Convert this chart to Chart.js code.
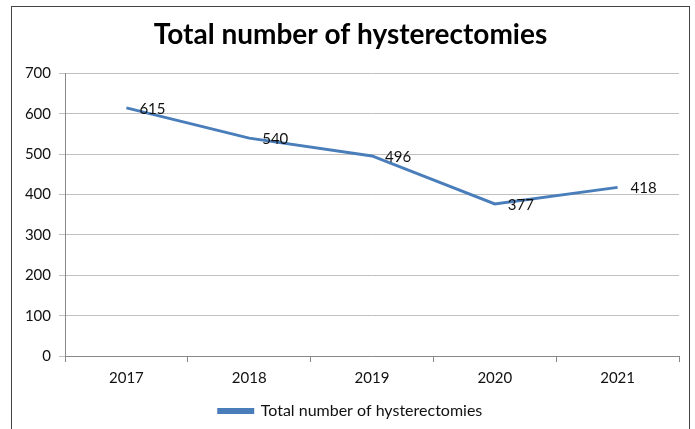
<!DOCTYPE html>
<html>
<head>
<meta charset="utf-8">
<script src="https://cdn.jsdelivr.net/npm/chart.js@4"></script>
<style>
  html, body { margin: 0; padding: 0; background: #fff; }
  #wrap { position: relative; width: 695px; height: 429px; }
  #frame {
    position: absolute; left: 11px; top: 6px; width: 679px; height: 440px;
    border: 1px solid #444; box-sizing: border-box; pointer-events: none;
  }
</style>
</head>
<body>
<div id="wrap">
  <canvas id="chart" width="695" height="429"></canvas>
  <div id="frame"></div>
</div>
<script>
// Data
const years = ['2017', '2018', '2019', '2020', '2021'];
const totals = [615, 540, 496, 377, 418];
const seriesName = 'Total number of hysterectomies';
const yTicks = [0, 100, 200, 300, 400, 500, 600, 700];

const lineBlue = '#4a7ebb';
const gridGrey = '#c0c0c0';
const fontFamily = 'Lato, Calibri, "Noto Sans", sans-serif';

// value labels to the right of each point
const valueLabels = {
  id: 'valueLabels',
  afterDatasetsDraw(chart) {
    const ctx = chart.ctx;
    const meta = chart.getDatasetMeta(0);
    ctx.save();
    ctx.font = '15px ' + fontFamily;
    ctx.fillStyle = '#111';
    ctx.textBaseline = 'middle';
    ctx.textAlign = 'left';
    meta.data.forEach((pt, i) => {
      ctx.fillText(String(totals[i]), pt.x + 13, pt.y + 1);
    });
    ctx.restore();
  }
};

const ctx = document.getElementById('chart').getContext('2d');
const chart = new Chart(ctx, {
  type: 'line',
  data: {
    labels: years,
    datasets: [{
      label: seriesName,
      data: totals,
      borderColor: lineBlue,
      backgroundColor: lineBlue,
      borderWidth: 3,
      pointRadius: 0,
      tension: 0
    }]
  },
  options: {
    responsive: false,
    animation: false,
    // some left padding pushes the title towards the centre of the original
    layout: { padding: { left: 22, right: 16, top: 0, bottom: 0 } },
    plugins: {
      title: {
        display: true,
        text: seriesName,
        color: '#000',
        font: { family: fontFamily, size: 28, weight: 'bold' },
        padding: { top: 18, bottom: 22 }
      },
      legend: {
        display: true,
        position: 'bottom',
        labels: {
          color: '#111',
          font: { family: fontFamily, size: 16 },
          boxWidth: 34,
          boxHeight: 3,
          padding: 9
        }
      },
      tooltip: { enabled: false }
    },
    scales: {
      x: {
        offset: true,
        grid: {
          offset: true,
          drawOnChartArea: false,
          color: '#888',
          tickLength: 6
        },
        border: { color: '#888' },
        ticks: {
          color: '#111',
          font: { family: fontFamily, size: 15 },
          padding: 7,
          maxRotation: 0
        }
      },
      y: {
        min: 0,
        max: 700,
        afterBuildTicks: (scale) => { scale.ticks = yTicks.map(v => ({ value: v })); },
        afterFit: (scale) => { scale.width = 43; },
        grid: {
          color: gridGrey,
          tickLength: 6
        },
        border: { color: '#888' },
        ticks: {
          color: '#111',
          font: { family: fontFamily, size: 15 },
          padding: 8
        }
      }
    }
  },
  plugins: [valueLabels]
});
</script>
</body>
</html>
